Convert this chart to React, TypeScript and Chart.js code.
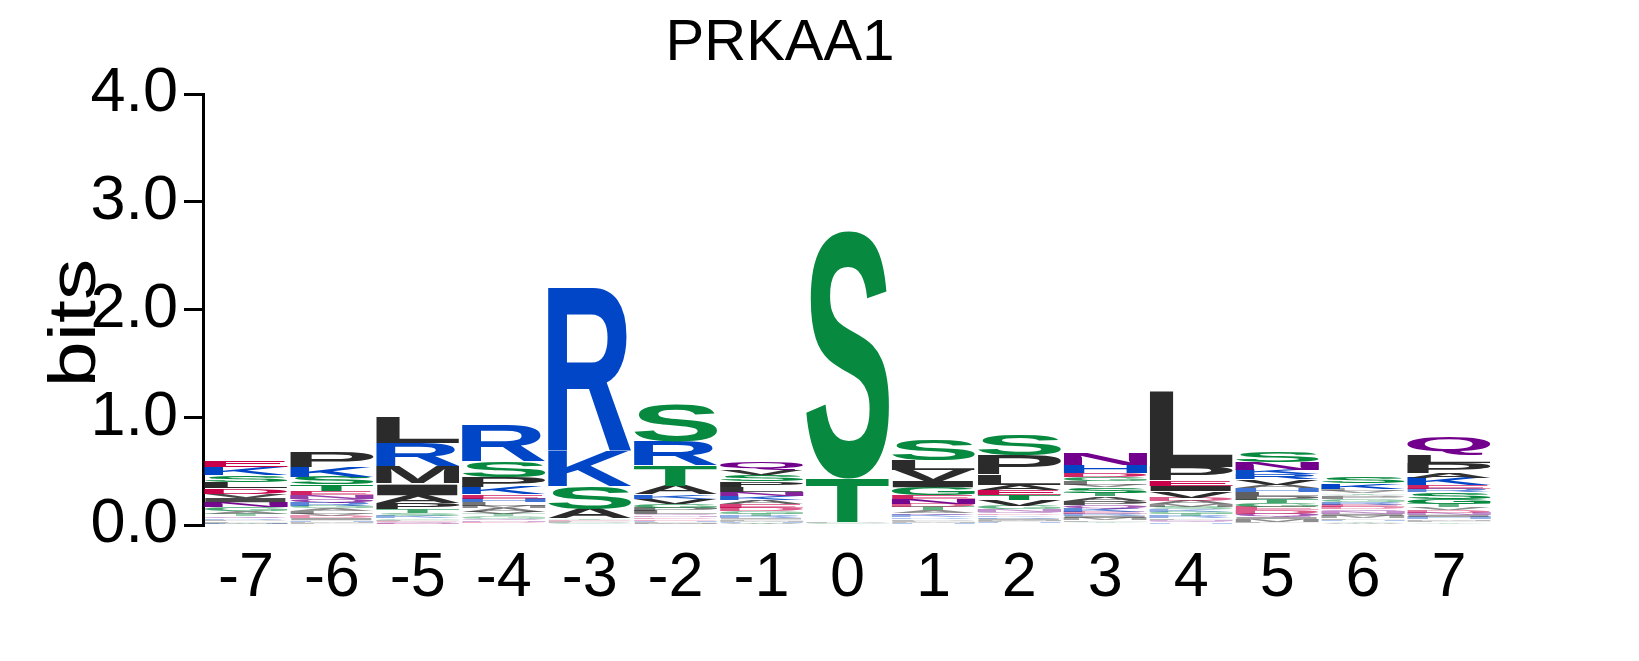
import React, { useEffect, useRef } from 'react';
import { Chart, registerables } from 'chart.js';

Chart.register(...registerables);

type Cell = [string, number];

// sequence positions (x categories)
const positions = ['-7', '-6', '-5', '-4', '-3', '-2', '-1', '0', '1', '2', '3', '4', '5', '6', '7'];
const yTicks = [0, 1, 2, 3, 4];

// letter heights in bits, bottom -> top of each stack
const posM7: Cell[] = [['Y', 0.005], ['H', 0.008], ['M', 0.01], ['F', 0.012], ['P', 0.015], ['R', 0.015], ['Q', 0.02], ['T', 0.02], ['A', 0.025], ['G', 0.035], ['N', 0.045], ['I', 0.04], ['V', 0.04], ['D', 0.05], ['L', 0.06], ['S', 0.065], ['K', 0.075], ['E', 0.06]];
const posM6: Cell[] = [['Y', 0.01], ['F', 0.01], ['M', 0.01], ['H', 0.015], ['I', 0.02], ['D', 0.02], ['V', 0.02], ['L', 0.025], ['A', 0.025], ['G', 0.025], ['R', 0.03], ['Q', 0.035], ['N', 0.035], ['E', 0.04], ['T', 0.06], ['S', 0.07], ['K', 0.09], ['P', 0.14]];
const posM5: Cell[] = [['D', 0.005], ['N', 0.01], ['Q', 0.01], ['E', 0.01], ['F', 0.015], ['G', 0.015], ['K', 0.02], ['S', 0.025], ['T', 0.035], ['P', 0.06], ['A', 0.07], ['I', 0.1], ['V', 0.015], ['M', 0.16], ['R', 0.21], ['L', 0.24]];
const posM4: Cell[] = [['I', 0.015], ['D', 0.015], ['N', 0.015], ['Q', 0.015], ['G', 0.02], ['T', 0.02], ['V', 0.025], ['A', 0.03], ['M', 0.025], ['L', 0.03], ['H', 0.035], ['E', 0.04], ['K', 0.065], ['P', 0.09], ['S', 0.15], ['R', 0.33]];
const posM3: Cell[] = [['V', 0.01], ['G', 0.01], ['P', 0.01], ['L', 0.01], ['E', 0.01], ['T', 0.01], ['A', 0.09], ['S', 0.21], ['K', 0.32], ['R', 1.52]];
const posM2: Cell[] = [['I', 0.01], ['M', 0.01], ['F', 0.01], ['H', 0.01], ['E', 0.015], ['D', 0.015], ['N', 0.015], ['Q', 0.015], ['L', 0.03], ['P', 0.03], ['G', 0.035], ['V', 0.05], ['K', 0.04], ['A', 0.08], ['T', 0.19], ['R', 0.22], ['S', 0.34]];
const posM1: Cell[] = [['W', 0.005], ['Y', 0.01], ['H', 0.01], ['M', 0.01], ['F', 0.015], ['I', 0.015], ['R', 0.02], ['T', 0.02], ['G', 0.025], ['D', 0.03], ['E', 0.035], ['A', 0.035], ['K', 0.04], ['N', 0.04], ['L', 0.045], ['P', 0.05], ['S', 0.06], ['V', 0.045], ['Q', 0.07]];
const pos0: Cell[] = [['A', 0.01], ['G', 0.01], ['P', 0.01], ['T', 0.4], ['S', 2.3]];
const pos1: Cell[] = [['Y', 0.01], ['H', 0.01], ['M', 0.01], ['F', 0.01], ['P', 0.015], ['R', 0.015], ['K', 0.02], ['Q', 0.02], ['A', 0.025], ['T', 0.03], ['D', 0.03], ['N', 0.045], ['E', 0.04], ['G', 0.07], ['I', 0.06], ['V', 0.1], ['L', 0.09], ['S', 0.2]];
const pos2: Cell[] = [['Y', 0.015], ['H', 0.01], ['F', 0.01], ['M', 0.01], ['I', 0.015], ['R', 0.015], ['K', 0.015], ['D', 0.015], ['Q', 0.02], ['N', 0.02], ['G', 0.03], ['V', 0.055], ['T', 0.05], ['E', 0.045], ['A', 0.05], ['L', 0.095], ['P', 0.18], ['S', 0.19]];
const pos3: Cell[] = [['W', 0.015], ['Y', 0.015], ['F', 0.015], ['M', 0.02], ['I', 0.02], ['R', 0.02], ['E', 0.02], ['K', 0.03], ['Q', 0.03], ['P', 0.04], ['A', 0.04], ['T', 0.035], ['S', 0.05], ['V', 0.025], ['L', 0.03], ['G', 0.04], ['D', 0.04], ['H', 0.075], ['N', 0.11]];
const pos4: Cell[] = [['Y', 0.01], ['H', 0.01], ['Q', 0.015], ['N', 0.015], ['F', 0.015], ['R', 0.02], ['T', 0.02], ['G', 0.02], ['K', 0.02], ['S', 0.025], ['M', 0.025], ['A', 0.03], ['D', 0.03], ['V', 0.06], ['I', 0.05], ['E', 0.05], ['P', 0.125], ['L', 0.7]];
const pos5: Cell[] = [['Y', 0.015], ['F', 0.015], ['M', 0.025], ['I', 0.02], ['Q', 0.03], ['D', 0.03], ['E', 0.03], ['G', 0.035], ['T', 0.035], ['P', 0.035], ['L', 0.035], ['H', 0.035], ['A', 0.035], ['V', 0.05], ['R', 0.045], ['K', 0.045], ['N', 0.065], ['S', 0.1]];
const pos6: Cell[] = [['C', 0.01], ['W', 0.01], ['Y', 0.015], ['H', 0.015], ['F', 0.015], ['M', 0.02], ['I', 0.02], ['N', 0.02], ['Q', 0.02], ['D', 0.02], ['E', 0.025], ['R', 0.025], ['G', 0.025], ['P', 0.025], ['A', 0.015], ['T', 0.015], ['V', 0.02], ['L', 0.02], ['K', 0.05], ['S', 0.065]];
const pos7: Cell[] = [['W', 0.01], ['Y', 0.015], ['F', 0.015], ['M', 0.015], ['H', 0.02], ['I', 0.02], ['N', 0.02], ['D', 0.025], ['V', 0.025], ['T', 0.03], ['G', 0.05], ['S', 0.06], ['R', 0.03], ['E', 0.04], ['K', 0.065], ['A', 0.045], ['P', 0.09], ['L', 0.075], ['Q', 0.17]];

const columns: Cell[][] = [posM7, posM6, posM5, posM4, posM3, posM2, posM1, pos0, pos1, pos2, pos3, pos4, pos5, pos6, pos7];

const FONT = '"Liberation Sans", Arial, Helvetica, sans-serif';
const GLYPH_FONT = `bold 200px ${FONT}`;

// chemistry colour scheme
const colorOf = (aa: string) => {
  if ('GSTYC'.includes(aa)) return '#07893f';
  if ('NQ'.includes(aa)) return '#72008c';
  if ('KRH'.includes(aa)) return '#0046c6';
  if ('DE'.includes(aa)) return '#c9004a';
  return '#2b2b2b';
};

const glyphCache: Record<string, { l: number; r: number; a: number; d: number }> = {};
const measure = (ctx: CanvasRenderingContext2D, ch: string) => {
  if (!glyphCache[ch]) {
    const m = ctx.measureText(ch);
    glyphCache[ch] = {
      l: m.actualBoundingBoxLeft,
      r: m.actualBoundingBoxRight,
      a: m.actualBoundingBoxAscent,
      d: m.actualBoundingBoxDescent,
    };
  }
  return glyphCache[ch];
};

// draws each stacked bar as a stretched letter
const lettersPlugin = {
  id: 'logoLetters',
  afterDatasetsDraw(chart: any) {
    const ctx: CanvasRenderingContext2D = chart.ctx;
    ctx.save();
    ctx.font = GLYPH_FONT;
    ctx.textAlign = 'left';
    ctx.textBaseline = 'alphabetic';
    chart.data.datasets.forEach((_ds: any, k: number) => {
      const meta = chart.getDatasetMeta(k);
      meta.data.forEach((bar: any, c: number) => {
        const cell = columns[c][k];
        if (!cell) return;
        const { x, y, base, width } = bar.getProps(['x', 'y', 'base', 'width'], true);
        const top = Math.min(y, base);
        const h = Math.abs(base - y);
        if (h < 0.3) return;
        const m = measure(ctx, cell[0]);
        ctx.save();
        // very squashed letters render faint, as in the original logo
        ctx.globalAlpha = Math.max(0.3, Math.min(1, h / 5));
        ctx.translate(x - width / 2, top);
        ctx.scale(width / (m.l + m.r), h / (m.a + m.d));
        ctx.fillStyle = colorOf(cell[0]);
        ctx.fillText(cell[0], m.l, m.a);
        ctx.restore();
      });
    });
    ctx.restore();
  },
};

const textPlugin = {
  id: 'logoText',
  afterDraw(chart: any) {
    const ctx: CanvasRenderingContext2D = chart.ctx;
    ctx.save();
    ctx.fillStyle = '#000';
    ctx.font = `58px ${FONT}`;
    ctx.textAlign = 'center';
    ctx.textBaseline = 'alphabetic';
    ctx.fillText('PRKAA1', 772, 52);

    ctx.font = `66px ${FONT}`;
    ctx.translate(87, 315);
    ctx.rotate(-Math.PI / 2);
    ctx.scale(1.25, 1);
    ctx.fillText('bits', 0, 0);
    ctx.restore();
  },
};

const App: React.FC = () => {
  const canvasRef = useRef<HTMLCanvasElement>(null);
  const chartRef = useRef<Chart | null>(null);

  useEffect(() => {
    if (!canvasRef.current) return;
    if (chartRef.current) chartRef.current.destroy();

    const layers = Math.max(...columns.map(col => col.length));
    const datasets = Array.from({ length: layers }, (_, k) => ({
      label: `layer ${k}`,
      data: columns.map(col => (col[k] ? col[k][1] : 0)),
      backgroundColor: 'rgba(0,0,0,0)',
      borderWidth: 0,
      stack: 'logo',
      barPercentage: 0.97,
      categoryPercentage: 1,
    }));

    chartRef.current = new Chart(canvasRef.current, {
      type: 'bar',
      data: { labels: positions, datasets },
      options: {
        responsive: true,
        maintainAspectRatio: false,
        animation: false,
        layout: { padding: { top: 86, right: 139, left: 0, bottom: 0 } },
        plugins: {
          legend: { display: false },
          tooltip: { enabled: false },
          title: { display: false },
        },
        scales: {
          x: {
            stacked: true,
            grid: { display: false, drawTicks: false },
            border: { display: false },
            ticks: {
              color: '#000',
              font: { family: FONT, size: 63 },
              padding: 16,
              maxRotation: 0,
              autoSkip: false,
            },
            afterFit: (scale: any) => {
              scale.height = 128;
            },
          },
          y: {
            stacked: true,
            min: 0,
            max: 4,
            afterBuildTicks: (scale: any) => {
              scale.ticks = yTicks.map(v => ({ value: v }));
            },
            grid: {
              drawOnChartArea: false,
              drawTicks: true,
              tickLength: 19,
              color: '#000',
              lineWidth: 3,
            },
            border: { display: true, color: '#000', width: 3 },
            ticks: {
              color: '#000',
              font: { family: FONT, size: 63 },
              padding: 6,
              callback: (v: any) => Number(v).toFixed(1),
            },
            afterFit: (scale: any) => {
              scale.width = 195;
            },
          },
        },
      },
      plugins: [lettersPlugin, textPlugin],
    });

    return () => {
      if (chartRef.current) {
        chartRef.current.destroy();
        chartRef.current = null;
      }
    };
  }, []);

  return (
    <div style={{ width: '1623px', height: '645px', position: 'relative', background: '#fff' }}>
      <canvas ref={canvasRef} />
    </div>
  );
};

export default App;
